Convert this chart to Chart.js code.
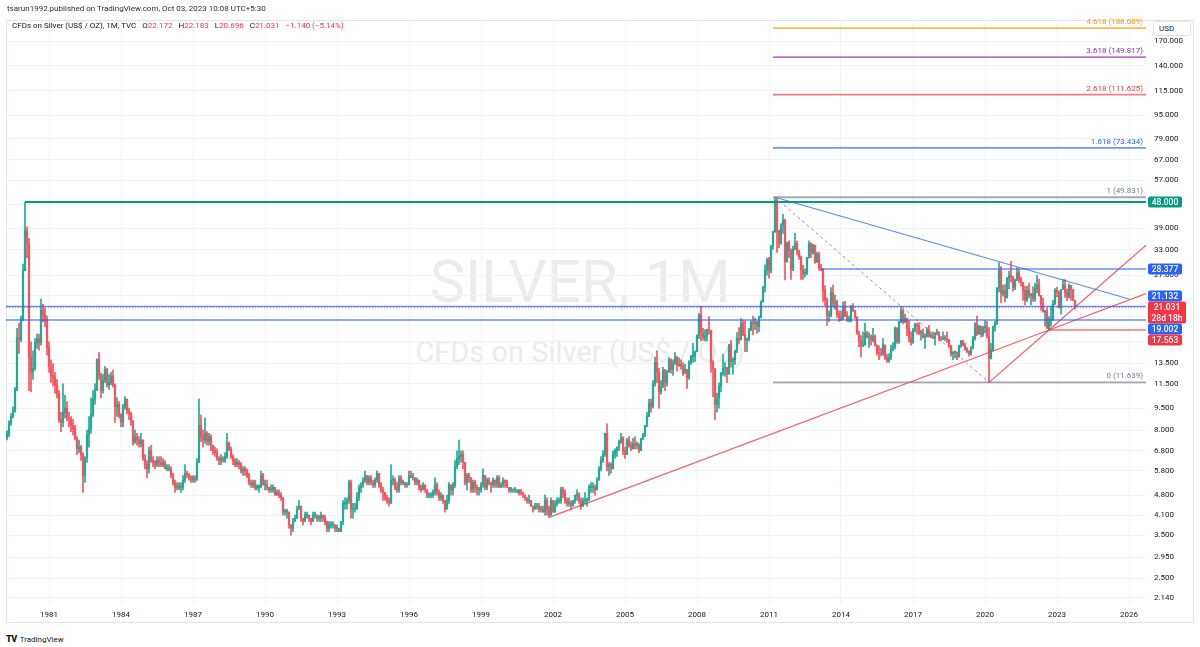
<!DOCTYPE html>
<html>
<head>
<meta charset="utf-8">
<title>CFDs on Silver (US$ / OZ), 1M, TVC</title>
<script src="https://cdn.jsdelivr.net/npm/chart.js@4.4.1/dist/chart.umd.min.js"></script>
<style>
  html,body{margin:0;padding:0;background:#fff;}
  #wrap{position:relative;width:1200px;height:647px;overflow:hidden;font-family:Roboto,sans-serif;color:#131722;}
  #chart{position:absolute;left:0;top:0;z-index:2;}
  .frame{position:absolute;left:6px;top:20px;width:1188px;height:603px;border:1px solid #e0e3eb;box-sizing:border-box;z-index:0;}
  .wm{position:absolute;left:0;width:1160px;text-align:center;color:#ececec;white-space:nowrap;z-index:1;line-height:1;}
  .hdr{position:absolute;left:7px;top:5px;font-size:8px;line-height:8px;color:#2a2e39;white-space:nowrap;z-index:3;}
  .legend{position:absolute;left:12px;top:22px;font-size:8px;line-height:8px;color:#131722;white-space:nowrap;z-index:3;}
  .legend .r{color:#f23645;}
  .legend .g{margin-left:6px;}
  .usd{position:absolute;left:1153px;top:21px;width:38px;height:15px;box-sizing:border-box;border:1px solid #e0e3eb;border-radius:3px;background:#fff;font-size:8px;line-height:13px;padding-left:5px;z-index:3;}
  .logo{position:absolute;left:6px;top:635px;font-size:8px;line-height:9px;color:#131722;white-space:nowrap;}
  .logo b{font-size:9px;font-weight:900;letter-spacing:-0.5px;margin-right:3px;}
</style>
</head>
<body>
<div id="wrap">
  <div class="frame"></div>
  <div class="wm" style="top:252px;font-size:60px;">SILVER, 1M</div>
  <div class="wm" style="top:338px;font-size:29px;">CFDs on Silver (US$ / OZ)</div>
  <div class="hdr">tsarun1992 published on TradingView.com, Oct 03, 2023 10:08 UTC+5:30</div>
  <div class="legend">CFDs on Silver (US$ / OZ), 1M, TVC<span class="g">O<span class="r">22.172</span></span><span class="g">H<span class="r">22.183</span></span><span class="g">L<span class="r">20.696</span></span><span class="g">C<span class="r">21.031</span></span><span class="g r">−1.140 (−5.14%)</span></div>
  <div class="usd">USD</div>
  <canvas id="chart" width="1200" height="647"></canvas>
  <div class="logo"><b>TV</b>TradingView</div>
</div>
<script>
// ---- monthly candles, Apr 1979 .. Oct 2023 (open = previous close) ----
const firstMonth = [1979, 4];
const firstOpen = 7.55;
const closes = [
  7.75, 8.45, 8.9, 9.3, 11.0, 16.5, 16.3, 19.0, 28.0,                 // 1979
  38.5, 34.5, 14.2, 12.6, 13.0, 15.8, 16.4, 15.9, 20.5, 19.8, 19.0, 15.3, // 1980
  13.2, 12.3, 12.1, 11.4, 10.6, 8.7, 8.5, 9.2, 9.5, 8.8, 8.7, 8.3,    // 1981
  8.1, 7.5, 6.9, 7.0, 6.6, 5.6, 6.4, 7.7, 8.1, 9.0, 10.2, 11.0,       // 1982
  13.9, 12.3, 10.9, 11.8, 12.9, 11.4, 11.6, 12.2, 11.4, 9.6, 9.8, 9.0, // 1983
  8.5, 9.6, 10.2, 9.3, 9.1, 8.6, 7.3, 7.6, 7.4, 7.2, 7.4, 6.4,        // 1984
  6.1, 5.9, 6.8, 6.3, 6.2, 6.1, 6.3, 6.2, 6.1, 6.2, 5.9, 5.9,         // 1985
  5.9, 5.6, 5.3, 5.1, 5.2, 5.1, 5.1, 5.4, 5.7, 5.6, 5.5, 5.4,         // 1986
  5.5, 5.4, 6.2, 8.3, 7.6, 7.4, 7.8, 7.3, 7.6, 7.1, 6.8, 6.7,         // 1987
  6.4, 6.3, 6.4, 6.3, 6.5, 7.2, 6.9, 6.5, 6.3, 6.1, 6.2, 6.1,         // 1988
  5.8, 5.9, 5.8, 5.6, 5.3, 5.2, 5.3, 5.1, 5.1, 5.1, 5.6, 5.2,         // 1989
  5.2, 5.1, 5.0, 5.0, 5.1, 4.8, 4.9, 4.8, 4.7, 4.2, 4.2, 4.2,         // 1990
  3.8, 3.7, 3.9, 4.0, 4.3, 4.4, 4.0, 3.9, 4.1, 4.1, 4.0, 3.9,         // 1991
  4.1, 4.1, 4.0, 4.0, 4.1, 4.0, 3.9, 3.7, 3.8, 3.8, 3.8, 3.7,         // 1992
  3.7, 3.6, 3.9, 4.5, 4.5, 4.6, 5.3, 4.3, 4.3, 4.3, 4.7, 5.1,         // 1993
  5.2, 5.4, 5.6, 5.3, 5.5, 5.3, 5.2, 5.4, 5.7, 5.2, 5.0, 4.9,         // 1994
  4.7, 4.6, 4.5, 5.4, 5.4, 5.1, 5.0, 5.5, 5.3, 5.3, 5.2, 5.2,         // 1995
  5.6, 5.5, 5.5, 5.3, 5.4, 5.1, 5.0, 5.2, 5.0, 4.8, 4.8, 4.8,         // 1996
  4.9, 5.2, 4.9, 4.7, 4.8, 4.6, 4.3, 4.6, 5.2, 5.0, 5.2, 6.0,         // 1997
  6.4, 6.5, 6.6, 6.2, 5.3, 5.6, 5.5, 5.0, 5.3, 5.1, 5.0, 5.0,         // 1998
  5.2, 5.6, 5.1, 5.4, 5.3, 5.2, 5.4, 5.2, 5.5, 5.1, 5.2, 5.4,         // 1999
  5.3, 5.1, 5.0, 5.0, 5.0, 5.0, 4.9, 5.0, 4.9, 4.8, 4.7, 4.6,         // 2000
  4.6, 4.4, 4.3, 4.4, 4.4, 4.3, 4.3, 4.2, 4.6, 4.3, 4.1, 4.6,         // 2001
  4.2, 4.5, 4.6, 4.6, 5.0, 4.9, 4.6, 4.5, 4.5, 4.4, 4.6, 4.8,         // 2002
  4.8, 4.6, 4.4, 4.6, 4.6, 4.6, 5.1, 5.1, 5.1, 5.0, 5.4, 5.9,         // 2003
  6.3, 6.6, 7.8, 6.0, 6.1, 5.9, 6.6, 6.8, 7.0, 7.3, 7.5, 6.8,         // 2004
  6.6, 7.4, 7.1, 6.9, 7.2, 7.1, 7.1, 6.8, 7.5, 7.7, 8.3, 8.9,         // 2005
  9.9, 9.6, 11.5, 13.6, 12.6, 10.8, 11.2, 12.8, 11.6, 12.6, 13.9, 12.9, // 2006
  13.5, 14.2, 13.3, 13.4, 13.2, 12.5, 12.9, 12.1, 13.6, 14.3, 14.3, 14.8, // 2007
  16.8, 19.8, 17.2, 16.5, 16.8, 17.6, 17.5, 13.6, 12.9, 9.8, 10.3, 11.3, // 2008
  12.5, 13.0, 13.1, 12.4, 15.6, 13.7, 13.9, 14.9, 16.5, 16.3, 18.5, 16.9, // 2009
  16.2, 16.3, 17.5, 18.6, 18.4, 18.7, 18.0, 19.4, 21.9, 24.5, 28.1, 30.6, // 2010
  27.9, 34.0, 37.9, 48.6, 38.3, 34.9, 40.1, 41.6, 30.0, 34.8, 32.7, 28.2, // 2011
  33.2, 34.6, 32.5, 31.2, 28.2, 27.3, 27.6, 31.0, 34.6, 32.3, 34.1, 29.9, // 2012
  31.8, 28.6, 28.3, 24.0, 22.3, 19.7, 19.7, 23.6, 21.7, 21.9, 19.9, 19.4, // 2013
  19.1, 21.2, 19.7, 19.0, 19.0, 21.0, 20.4, 19.4, 17.1, 16.1, 15.5, 15.6, // 2014
  17.1, 16.6, 16.6, 16.3, 16.7, 15.6, 14.7, 14.6, 14.5, 15.6, 14.1, 13.8, // 2015
  14.1, 15.0, 15.4, 17.8, 16.0, 18.7, 20.4, 18.7, 19.2, 17.8, 16.5, 15.9, // 2016
  17.5, 18.3, 18.2, 17.2, 17.3, 16.6, 16.7, 17.6, 16.7, 16.7, 16.5, 17.1, // 2017
  17.3, 16.4, 16.3, 16.4, 16.4, 16.3, 15.5, 14.6, 14.7, 14.7, 14.2, 15.5, // 2018
  16.1, 15.6, 15.1, 14.9, 14.6, 15.3, 16.4, 18.4, 17.0, 18.1, 17.0, 17.9, // 2019
  17.9, 16.7, 14.0, 15.0, 18.0, 18.5, 24.4, 28.0, 23.4, 23.9, 22.6, 26.4, // 2020
  26.9, 26.7, 24.5, 25.9, 27.5, 26.1, 25.5, 24.0, 22.2, 24.0, 23.0, 23.3, // 2021
  22.4, 24.3, 25.1, 23.0, 21.6, 20.3, 20.3, 17.8, 19.0, 19.1, 21.5, 24.0, // 2022
  23.6, 20.9, 24.1, 25.0, 23.6, 22.7, 24.9, 24.1, 22.172, 21.031       // 2023
];
const highs = [
  7.95, 8.6, 9.1, 9.6, 11.2, 17.8, 18.5, 19.6, 29.5,
  48.0, 39.5, 36.0, 16.0, 14.9, 16.4, 17.0, 17.0, 22.4, 21.5, 20.9, 19.6,
  16.0, 13.9, 13.5, 12.6, 11.9, 10.9, 9.2, 11.5, 10.5, 10.0, 9.2, 8.9,
  8.7, 8.3, 7.6, 7.4, 7.1, 6.7, 6.5, 8.0, 8.9, 10.3, 10.9, 11.5,
  14.0, 14.7, 12.5, 12.4, 13.2, 13.0, 12.4, 12.6, 12.8, 11.5, 10.3, 10.0,
  9.1, 9.8, 10.4, 10.1, 9.5, 9.2, 8.6, 8.0, 7.8, 7.6, 7.8, 7.4,
  6.6, 6.3, 7.0, 7.1, 6.5, 6.3, 6.5, 6.5, 6.5, 6.4, 6.3, 6.1,
  6.1, 6.0, 5.7, 5.4, 5.3, 5.3, 5.3, 5.6, 6.1, 5.8, 5.7, 5.6,
  5.6, 5.6, 6.4, 10.2, 9.0, 8.0, 8.8, 7.9, 7.8, 7.7, 7.1, 7.0,
  6.9, 6.5, 6.6, 6.5, 6.7, 7.8, 7.3, 7.0, 6.6, 6.4, 6.4, 6.3,
  6.2, 6.0, 6.0, 5.9, 5.7, 5.4, 5.4, 5.4, 5.2, 5.2, 5.8, 5.7,
  5.4, 5.4, 5.1, 5.2, 5.2, 5.1, 5.0, 5.0, 4.9, 4.7, 4.3, 4.3,
  4.2, 3.8, 4.0, 4.1, 4.4, 4.6, 4.4, 4.0, 4.2, 4.2, 4.1, 4.0,
  4.2, 4.2, 4.1, 4.1, 4.2, 4.1, 4.1, 3.9, 3.9, 3.9, 3.9, 3.8,
  3.8, 3.7, 3.9, 4.6, 4.7, 4.7, 5.4, 5.4, 4.5, 4.5, 4.9, 5.2,
  5.3, 5.5, 5.8, 5.6, 5.6, 5.6, 5.4, 5.5, 5.8, 5.7, 5.3, 5.1,
  4.9, 4.8, 4.7, 6.1, 5.6, 5.5, 5.3, 5.6, 5.6, 5.4, 5.3, 5.3,
  5.8, 5.8, 5.7, 5.5, 5.5, 5.4, 5.2, 5.3, 5.2, 5.0, 4.9, 4.9,
  5.0, 5.5, 5.3, 5.0, 4.9, 4.8, 4.6, 4.8, 5.3, 5.2, 5.3, 6.3,
  6.8, 7.4, 6.8, 6.8, 6.2, 5.7, 5.7, 5.5, 5.4, 5.4, 5.2, 5.1,
  5.3, 5.9, 5.6, 5.5, 5.5, 5.3, 5.5, 5.4, 5.6, 5.6, 5.3, 5.5,
  5.4, 5.4, 5.1, 5.1, 5.0, 5.1, 5.0, 5.0, 5.0, 4.9, 4.8, 4.7,
  4.8, 4.6, 4.4, 4.5, 4.5, 4.5, 4.4, 4.4, 4.8, 4.7, 4.4, 4.7,
  4.6, 4.6, 4.7, 4.7, 5.1, 5.1, 5.0, 4.7, 4.7, 4.6, 4.6, 4.8,
  5.0, 4.9, 4.7, 4.7, 4.9, 4.7, 5.2, 5.3, 5.3, 5.2, 5.5, 6.0,
  6.5, 6.8, 7.8, 8.4, 6.2, 6.2, 6.8, 6.9, 7.0, 7.4, 7.8, 7.6,
  7.0, 7.5, 7.6, 7.3, 7.5, 7.6, 7.3, 7.2, 7.5, 7.8, 8.3, 9.2,
  10.2, 10.2, 11.8, 14.2, 14.9, 13.0, 11.8, 13.1, 12.9, 12.8, 14.1, 14.0,
  13.9, 14.7, 14.3, 14.1, 13.9, 13.6, 13.4, 12.9, 13.8, 14.4, 15.8, 14.9,
  16.9, 20.0, 21.1, 17.8, 17.6, 17.7, 19.5, 17.5, 13.8, 13.0, 10.7, 11.6,
  12.6, 14.5, 13.6, 13.1, 15.7, 16.2, 14.1, 15.0, 17.2, 17.9, 19.2, 19.0,
  18.9, 16.5, 17.8, 18.9, 19.6, 19.3, 18.8, 19.6, 22.1, 24.8, 29.3, 30.9,
  31.1, 34.1, 38.2, 49.83, 49.2, 38.4, 40.5, 43.6, 42.0, 35.0, 35.4, 33.2,
  33.9, 37.5, 35.3, 32.9, 31.4, 29.2, 28.4, 31.1, 35.4, 34.8, 34.5, 34.2,
  32.4, 32.4, 29.4, 28.4, 24.9, 22.6, 20.4, 24.5, 25.0, 23.1, 22.2, 20.4,
  20.4, 21.9, 22.0, 20.3, 19.6, 21.3, 21.6, 20.5, 19.5, 17.4, 16.8, 17.3,
  18.5, 17.4, 17.2, 16.9, 17.8, 16.9, 15.6, 15.5, 15.2, 16.4, 15.6, 14.5,
  14.6, 15.6, 15.9, 18.0, 17.9, 18.8, 21.1, 20.7, 19.9, 19.3, 18.9, 17.3,
  17.8, 18.5, 18.5, 18.6, 17.5, 17.7, 17.0, 17.9, 18.2, 17.2, 17.3, 17.2,
  17.7, 17.3, 16.7, 17.3, 16.8, 17.3, 16.3, 15.6, 14.8, 14.9, 14.8, 15.6,
  16.2, 16.2, 15.8, 15.3, 14.9, 15.4, 16.7, 18.6, 19.6, 18.2, 18.1, 18.1,
  18.9, 18.8, 17.9, 15.8, 18.1, 18.8, 24.5, 29.8, 28.9, 25.0, 25.1, 26.5,
  27.9, 30.1, 26.6, 26.2, 28.7, 28.3, 26.6, 24.9, 24.8, 24.8, 25.4, 23.4,
  24.7, 25.4, 27.0, 26.2, 22.5, 22.5, 20.5, 20.9, 19.5, 21.2, 22.2, 24.3,
  24.6, 23.9, 24.1, 26.1, 26.1, 24.2, 25.3, 25.0, 23.8, 22.183
];
const lows = [
  7.4, 7.6, 8.3, 8.8, 9.2, 10.9, 14.6, 16.0, 18.9,
  28.0, 31.0, 10.9, 10.8, 11.9, 12.8, 15.2, 15.0, 15.6, 18.7, 18.0, 14.4,
  12.6, 11.6, 11.3, 10.7, 10.3, 8.5, 7.9, 8.2, 8.8, 8.6, 8.2, 7.9,
  7.7, 7.4, 6.6, 6.7, 6.3, 4.9, 5.3, 6.2, 7.0, 7.8, 8.9, 9.8,
  10.9, 11.9, 10.3, 10.7, 11.6, 11.2, 11.0, 11.4, 11.2, 8.5, 8.9, 8.8,
  8.2, 8.2, 9.4, 9.1, 8.7, 8.3, 7.1, 7.2, 7.1, 7.0, 7.0, 6.3,
  5.9, 5.5, 5.7, 6.2, 6.0, 5.9, 6.0, 6.0, 6.0, 6.0, 5.9, 5.8,
  5.8, 5.5, 5.2, 4.9, 5.0, 5.0, 4.9, 5.0, 5.3, 5.5, 5.4, 5.3,
  5.3, 5.3, 5.4, 6.2, 7.3, 7.0, 7.2, 7.1, 7.1, 6.8, 6.6, 6.5,
  6.3, 6.1, 6.1, 6.2, 6.2, 6.4, 6.8, 6.4, 6.1, 6.0, 6.0, 5.9,
  5.7, 5.6, 5.6, 5.5, 5.2, 5.1, 5.1, 5.0, 5.0, 4.9, 5.1, 5.2,
  5.0, 5.0, 4.9, 4.9, 4.9, 4.8, 4.8, 4.7, 4.6, 4.1, 4.1, 4.0,
  3.7, 3.5, 3.6, 3.9, 4.0, 4.3, 3.9, 3.8, 3.9, 4.0, 3.9, 3.8,
  3.9, 4.0, 3.9, 3.9, 3.9, 3.9, 3.8, 3.6, 3.6, 3.7, 3.7, 3.6,
  3.6, 3.6, 3.6, 3.8, 4.3, 4.3, 4.5, 4.0, 4.0, 4.2, 4.3, 4.6,
  4.9, 5.1, 5.3, 5.2, 5.2, 5.2, 5.1, 5.1, 5.3, 5.1, 4.9, 4.6,
  4.6, 4.5, 4.4, 4.5, 5.2, 5.0, 4.9, 4.9, 5.2, 5.2, 5.1, 5.1,
  5.2, 5.5, 5.4, 5.2, 5.2, 5.0, 4.9, 5.0, 4.9, 4.7, 4.7, 4.7,
  4.7, 4.8, 4.8, 4.6, 4.6, 4.5, 4.2, 4.3, 4.5, 4.8, 4.8, 5.1,
  5.9, 6.1, 6.2, 5.9, 5.2, 5.0, 5.3, 4.9, 4.9, 4.9, 4.8, 4.8,
  4.9, 5.1, 5.0, 5.0, 5.2, 4.9, 5.1, 5.1, 5.1, 5.1, 5.1, 5.1,
  5.1, 5.1, 4.9, 4.9, 4.9, 4.9, 4.9, 4.8, 4.8, 4.7, 4.6, 4.5,
  4.5, 4.4, 4.2, 4.3, 4.3, 4.2, 4.2, 4.2, 4.1, 4.1, 4.03, 4.1,
  4.2, 4.2, 4.4, 4.5, 4.5, 4.7, 4.5, 4.4, 4.4, 4.3, 4.4, 4.5,
  4.6, 4.5, 4.3, 4.4, 4.5, 4.4, 4.6, 4.9, 4.9, 4.8, 5.0, 5.4,
  5.8, 6.2, 6.5, 5.8, 5.6, 5.7, 5.9, 6.4, 6.5, 6.8, 7.2, 6.6,
  6.4, 6.6, 7.0, 6.8, 6.9, 6.9, 6.9, 6.7, 6.8, 7.4, 7.6, 8.2,
  8.9, 9.2, 9.5, 11.3, 11.6, 9.5, 10.6, 11.2, 10.9, 11.3, 12.6, 12.5,
  12.3, 13.4, 12.7, 13.2, 12.9, 12.3, 12.5, 11.1, 11.9, 13.4, 13.6, 13.7,
  14.8, 16.4, 16.1, 16.2, 16.1, 16.1, 17.0, 12.6, 10.4, 8.7, 9.2, 9.5,
  10.8, 12.3, 12.2, 11.6, 12.4, 13.1, 12.4, 13.4, 14.7, 15.8, 16.2, 16.8,
  14.8, 14.8, 16.1, 17.5, 16.9, 17.6, 17.1, 17.3, 19.3, 21.9, 23.7, 27.0,
  26.4, 27.5, 33.1, 37.9, 32.3, 33.5, 34.4, 37.5, 26.0, 29.9, 31.0, 26.1,
  28.0, 33.0, 31.7, 30.6, 26.1, 26.1, 26.6, 27.1, 30.9, 31.0, 31.8, 29.6,
  29.9, 28.1, 28.0, 22.0, 21.3, 18.2, 18.8, 19.5, 21.0, 20.7, 19.4, 18.8,
  18.9, 19.1, 19.5, 18.8, 18.7, 18.7, 20.3, 19.2, 17.0, 15.4, 14.2, 15.4,
  15.7, 16.5, 15.3, 15.6, 16.0, 15.5, 14.4, 13.9, 14.3, 14.4, 13.9, 13.6,
  13.6, 13.9, 14.9, 15.1, 15.8, 15.8, 18.6, 18.4, 18.6, 16.8, 16.0, 15.6,
  15.8, 17.3, 17.0, 16.9, 16.2, 16.5, 15.2, 16.6, 16.6, 16.5, 16.4, 15.6,
  16.9, 16.1, 16.1, 16.3, 16.1, 15.9, 15.3, 14.3, 13.9, 14.1, 13.9, 14.2,
  15.3, 15.5, 15.0, 14.7, 14.3, 14.4, 15.1, 16.2, 16.8, 17.0, 16.6, 16.7,
  17.2, 16.5, 11.64, 14.0, 14.9, 17.4, 18.3, 23.7, 21.7, 22.9, 21.9, 22.6,
  24.3, 25.6, 23.8, 24.1, 25.9, 25.5, 24.8, 22.2, 21.4, 22.0, 22.6, 21.4,
  22.0, 22.0, 23.5, 22.9, 20.5, 20.2, 18.1, 17.8, 17.56, 18.1, 18.9, 22.0,
  22.8, 20.9, 19.9, 24.5, 22.7, 22.1, 22.6, 22.2, 22.1, 20.696
];

// ---- axes ----
const yearLabels = ['1981','1984','1987','1990','1993','1996','1999','2002','2005','2008','2011','2014','2017','2020','2023','2026'];
const priceTicks = [2.14, 2.5, 2.95, 3.5, 4.1, 4.8, 5.8, 6.8, 8, 9.5, 11.5, 13.5, 16, 19.5, 23, 27, 33, 39, 47, 57, 67, 79, 95, 115, 140, 170];

// ---- drawings (anchors are [year, month, price]) ----
const fibLevels = [0, 1, 1.618, 2.618, 3.618, 4.618];
const fibPrices = [11.639, 49.831, 73.434, 111.625, 149.817, 188.009];
const fibColors = ['#787b86', '#787b86', '#2962ff', '#f23645', '#9c27b0', '#ff9800'];
const fibFrom = [2011, 3];
const topAnchor = [2011, 4, 49.831];
const covidLow = [2020, 3, 11.639];
const low2001 = [2001, 11, 4.03];
const low2022 = [2022, 9, 17.563];
const blueEnd = [2026, 1, 22.4];
const levelPrices = [48.0, 28.377, 21.132, 19.002, 17.563];
const levelFrom = [[1980, 1], [2013, 3], null, null, [2022, 9]];
const levelColors = ['#089981', 'rgba(41,98,255,0.7)', 'rgba(41,98,255,0.7)', 'rgba(41,98,255,0.7)', 'rgba(242,54,69,0.7)'];
const lastPrice = 21.031;

// ---- right-axis badges ----
const badgeValues = [48.000, 28.377, 21.132, 21.031, 19.002, 17.563];
const badgeColors = ['#089981', '#2962ff', '#2962ff', '#f23645', '#2962ff', '#f23645'];
const badgeSub = [null, null, null, '28d 18h', null, null];

const UP = '#22ab94', DOWN = '#f7525f';
const X_MIN = -21.5, X_MAX = 548.5;

function monthIdx(y, m){ return (y - 1981) * 12 + (m - 1); }
function pt(a){ return {x: monthIdx(a[0], a[1]), y: a[2]}; }
function rayTo(p1, p2, xEnd){
  const t = (xEnd - p1.x) / (p2.x - p1.x);
  return {x: xEnd, y: Math.exp(Math.log(p1.y) + t * (Math.log(p2.y) - Math.log(p1.y)))};
}

// build candles
const start = monthIdx(firstMonth[0], firstMonth[1]);
const wicks = [], bodies = [], colors = [];
closes.forEach((c, i) => {
  const o = i ? closes[i - 1] : firstOpen;
  const hi = Math.max(highs[i], o, c), lo = Math.min(lows[i], o, c);
  wicks.push({x: start + i, y: [lo, hi]});
  bodies.push({x: start + i, y: [Math.min(o, c), Math.max(o, c)]});
  colors.push(c >= o ? UP : DOWN);
});

function line(data, color, width, dash){
  return {type: 'line', data, borderColor: color, borderWidth: width, borderDash: dash || [],
          pointRadius: 0, fill: false, tension: 0, order: 1};
}

const datasets = [];
// fib extension levels
fibPrices.forEach((p, i) => {
  datasets.push(line([{x: monthIdx(fibFrom[0], fibFrom[1]), y: p}, {x: X_MAX, y: p}],
    fibColors[i] + 'aa', 1.8));
});
// horizontal levels
levelPrices.forEach((p, i) => {
  const x0 = levelFrom[i] ? monthIdx(levelFrom[i][0], levelFrom[i][1]) : X_MIN;
  datasets.push(line([{x: x0, y: p}, {x: X_MAX, y: p}], levelColors[i], i === 0 ? 2 : 1.5));
});
// last price line
datasets.push(line([{x: X_MIN, y: lastPrice}, {x: X_MAX, y: lastPrice}], '#f23645', 1, [1, 2]));
// trend lines
const pTop = pt(topAnchor), pCov = pt(covidLow), p01 = pt(low2001), p22 = pt(low2022);
datasets.push(line([pTop, pt(blueEnd)], 'rgba(41,98,255,0.75)', 1.2));
datasets.push(line([pTop, pCov], '#9598a1', 1, [3, 3]));
datasets.push(line([p01, p22, rayTo(p01, p22, X_MAX)], 'rgba(242,54,69,0.8)', 1.2));
datasets.push(line([pCov, p22, rayTo(pCov, p22, X_MAX)], 'rgba(242,54,69,0.8)', 1.2));
// candles
datasets.push({type: 'bar', data: bodies, backgroundColor: colors, barThickness: 1.6, minBarLength: 1,
               grouped: false, borderWidth: 0, order: 2});
datasets.push({type: 'bar', data: wicks, backgroundColor: colors, barThickness: 1, grouped: false,
               borderWidth: 0, order: 3});

// fib labels + price badges
const overlay = {
  id: 'overlay',
  afterDatasetsDraw(chart){
    const {ctx, chartArea, scales: {y}} = chart;
    ctx.save();
    ctx.font = '8px Roboto';
    ctx.textAlign = 'right';
    fibLevels.forEach((lv, i) => {
      ctx.fillStyle = fibColors[i];
      ctx.fillText(lv + ' (' + fibPrices[i].toFixed(3) + ')', chartArea.right - 3, y.getPixelForValue(fibPrices[i]) - 4);
    });
    ctx.restore();
  },
  afterDraw(chart){
    const {ctx, chartArea, scales: {y}} = chart;
    const H = 11;
    const b = badgeValues.map((v, i) => {
      const h = badgeSub[i] ? 2 * H : H;
      const c = y.getPixelForValue(v);
      return {i, v, h, top: c - H / 2, bottom: c - H / 2 + h};
    }).sort((a, c) => a.top - c.top);
    const a = b.findIndex(o => badgeSub[o.i]);
    for (let k = a + 1; k < b.length; k++) {
      if (b[k].top < b[k - 1].bottom) { b[k].top = b[k - 1].bottom; b[k].bottom = b[k].top + b[k].h; }
    }
    for (let k = a - 1; k >= 0; k--) {
      if (b[k].bottom > b[k + 1].top) { b[k].bottom = b[k + 1].top; b[k].top = b[k].bottom - b[k].h; }
    }
    ctx.save();
    ctx.textAlign = 'center';
    ctx.textBaseline = 'middle';
    b.forEach(o => {
      const x = chartArea.right + 2, w = badgeSub[o.i] ? 38 : 34;
      ctx.fillStyle = badgeColors[o.i];
      ctx.beginPath();
      ctx.roundRect(x, o.top, w, o.h, 2);
      ctx.fill();
      ctx.fillStyle = '#fff';
      ctx.font = '500 8.5px Roboto';
      ctx.fillText(o.v.toFixed(3), x + w / 2, o.top + H / 2 + 0.5);
      if (badgeSub[o.i]) ctx.fillText(badgeSub[o.i], x + w / 2, o.top + H * 1.5 + 0.5);
    });
    ctx.restore();
  }
};

Chart.defaults.font.family = 'Roboto';
Chart.defaults.font.size = 8;
Chart.defaults.color = '#131722';

new Chart(document.getElementById('chart'), {
  type: 'bar',
  data: {datasets},
  options: {
    responsive: false,
    animation: false,
    events: [],
    layout: {padding: {left: 6, top: 22, right: 0, bottom: 24}},
    plugins: {legend: {display: false}, tooltip: {enabled: false}},
    scales: {
      x: {
        type: 'linear', min: X_MIN, max: X_MAX, offset: false,
        grid: {color: '#f0f3fa', drawTicks: false, offset: false},
        border: {display: false},
        ticks: {autoSkip: false, maxRotation: 0, padding: 6, callback: v => String(1981 + v / 12)},
        afterBuildTicks: s => { s.ticks = yearLabels.map(l => ({value: monthIdx(+l, 1)})); },
        afterFit: s => { s.height = 19; }
      },
      y: {
        type: 'logarithmic', position: 'right', min: 2.04, max: 197.4,
        grid: {color: '#f0f3fa', drawTicks: false},
        border: {display: false},
        ticks: {autoSkip: false, padding: 8, callback: v => Number(v).toFixed(3)},
        afterBuildTicks: s => { s.ticks = priceTicks.map(v => ({value: v})); },
        afterFit: s => { s.width = 54; }
      }
    }
  },
  plugins: [overlay]
});
</script>
</body>
</html>
